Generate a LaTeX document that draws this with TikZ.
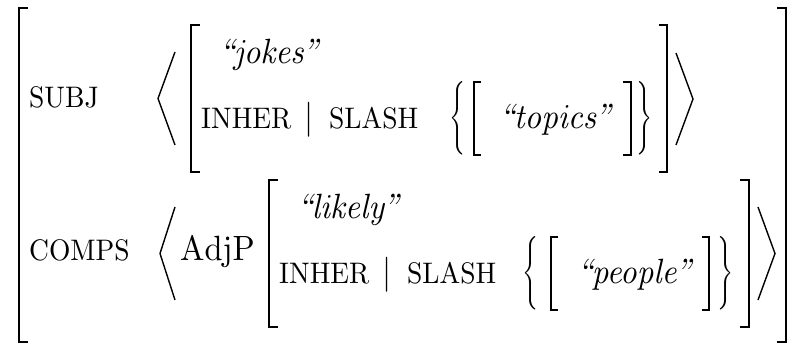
\documentclass[tikz,border=0pt]{standalone}
\usepackage{graphicx}
\font\rmbig=cmr10 at 32.5pt
\font\itbig=cmti10 at 32.5pt
\font\capbig=cmr10 at 27.5pt
\font\sybig=cmsy10 at 32.5pt
\newcommand{\Tx}[1]{\scalebox{1}[1.08]{#1}}
\newcommand{\Brc}[1]{\scalebox{2.0}[2.45]{$\Bigg#1$}}
\begin{document}
\begin{tikzpicture}[x=1pt,y=-1pt,
  txt/.style={inner sep=0pt, anchor=base west},
  glyph/.style={inner sep=0pt, anchor=center},
  brk/.style={line width=2pt, line cap=butt, line join=miter},
  ang/.style={line width=1.4pt, line join=miter}]
\useasboundingbox (0,0) rectangle (788,344);
% outer brackets
\draw[brk] (28,8) -| (19,342) -- (28,342);
\draw[brk] (777,8) -| (786,342) -- (777,342);
% labels
\node[txt] (subj) at (29,108) {\Tx{\capbig SUBJ}};
\node[txt] (comps) at (29,261) {\Tx{\capbig COMPS}};
% ---------- row 1
\draw[ang] (175,52) -- (158,98.5) -- (175,145);
\draw[brk] (200,25) -| (191,172) -- (200,172);
\node[txt] (jokes) at (217,64) {\Tx{\itbig ``jokes''}};
\node[txt] (inher1) at (201,129) {\Tx{\capbig INHER}};
\node[txt, anchor=base] (bar1) at (309,129) {\Tx{\sybig\char"6A}};
\node[txt] (slash1) at (329,129) {\Tx{\capbig SLASH}};
\node[glyph] (lb1) at (458,118.5) {\Brc\{};
\draw[brk] (481,82) -| (474,155) -- (481,155);
\node[txt] (topics) at (497,129) {\Tx{\itbig ``topics''}};
\draw[brk] (623,82) -| (631,155) -- (623,155);
\node[glyph] (rb1) at (645,118.5) {\Brc\}};
\draw[brk] (659,25) -| (667,172) -- (659,172);
\draw[ang] (676,53) -- (693,99) -- (676,145);
% ---------- row 2
\draw[ang] (175,207) -- (160,253.5) -- (175,300);
\node[txt] (adjp) at (180,261) {\Tx{\rmbig AdjP}};
\draw[brk] (278,180) -| (269,327) -- (278,327);
\node[txt] (likely) at (295,219) {\Tx{\itbig ``likely''}};
\node[txt] (inher2) at (279,284) {\Tx{\capbig INHER}};
\node[txt, anchor=base] (bar2) at (387,284) {\Tx{\sybig\char"6A}};
\node[txt] (slash2) at (407,284) {\Tx{\capbig SLASH}};
\node[glyph] (lb2) at (531,273.5) {\Brc\{};
\draw[brk] (558,237) -| (551,310) -- (558,310);
\node[txt] (people) at (575,284) {\Tx{\itbig ``people''}};
\draw[brk] (702,237) -| (709,310) -- (702,310);
\node[glyph] (rb2) at (726,273.5) {\Brc\}};
\draw[brk] (740,180) -| (749,327) -- (740,327);
\draw[ang] (758,207) -- (775,253.5) -- (758,300);
\end{tikzpicture}
\end{document}
